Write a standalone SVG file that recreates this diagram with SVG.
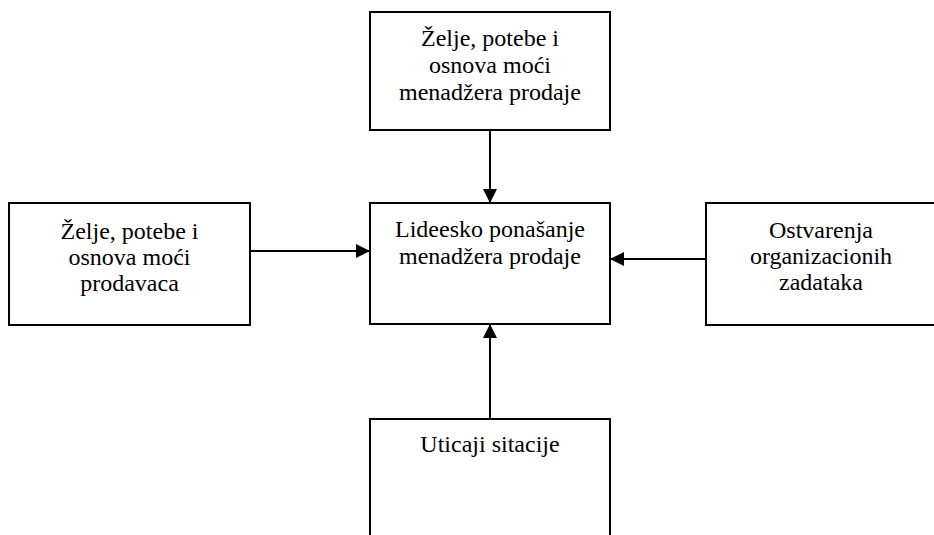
<svg xmlns="http://www.w3.org/2000/svg" width="934" height="535" viewBox="0 0 934 535">
  <style>
    .box { fill: #ffffff; stroke: #000000; stroke-width: 2; }
    .lbl { font-family: "Liberation Serif", "Times New Roman", serif; font-size: 24px; fill: #000000; text-anchor: middle; }
    .link { stroke: #000000; stroke-width: 2; fill: none; marker-end: url(#arrow); }
  </style>
  <defs>
    <marker id="arrow" viewBox="0 0 14 14" refX="14" refY="7" markerWidth="14" markerHeight="14" markerUnits="userSpaceOnUse" orient="auto">
      <path d="M0,0 L14,7 L0,14 Z" fill="#000000"/>
    </marker>
  </defs>
  <rect width="934" height="535" fill="#ffffff"/>

  <g id="connectors">
    <line class="link" x1="490" y1="130" x2="490" y2="203"/>
    <line class="link" x1="250" y1="251" x2="370" y2="251"/>
    <line class="link" x1="706" y1="259" x2="610" y2="259"/>
    <line class="link" x1="490" y1="419" x2="490" y2="324"/>
  </g>

  <g id="node-manager-needs">
    <rect class="box" x="370" y="12" width="240" height="118"/>
    <text class="lbl" x="490" y="46">Želje, potebe i</text>
    <text class="lbl" x="490" y="73">osnova moći</text>
    <text class="lbl" x="490" y="100">menadžera prodaje</text>
  </g>

  <g id="node-sales-needs">
    <rect class="box" x="9" y="203" width="241" height="122"/>
    <text class="lbl" x="129.5" y="239">Želje, potebe i</text>
    <text class="lbl" x="129.5" y="265">osnova moći</text>
    <text class="lbl" x="129.5" y="291">prodavaca</text>
  </g>

  <g id="node-leadership">
    <rect class="box" x="370" y="203" width="240" height="121"/>
    <text class="lbl" x="490" y="237">Lideesko ponašanje</text>
    <text class="lbl" x="490" y="264">menadžera prodaje</text>
  </g>

  <g id="node-goals">
    <rect class="box" x="706" y="203" width="232" height="122"/>
    <text class="lbl" x="821" y="238">Ostvarenja</text>
    <text class="lbl" x="821" y="264">organizacionih</text>
    <text class="lbl" x="821" y="290">zadataka</text>
  </g>

  <g id="node-situation">
    <rect class="box" x="370" y="419" width="240" height="130"/>
    <text class="lbl" x="490" y="452">Uticaji sitacije</text>
  </g>
</svg>
